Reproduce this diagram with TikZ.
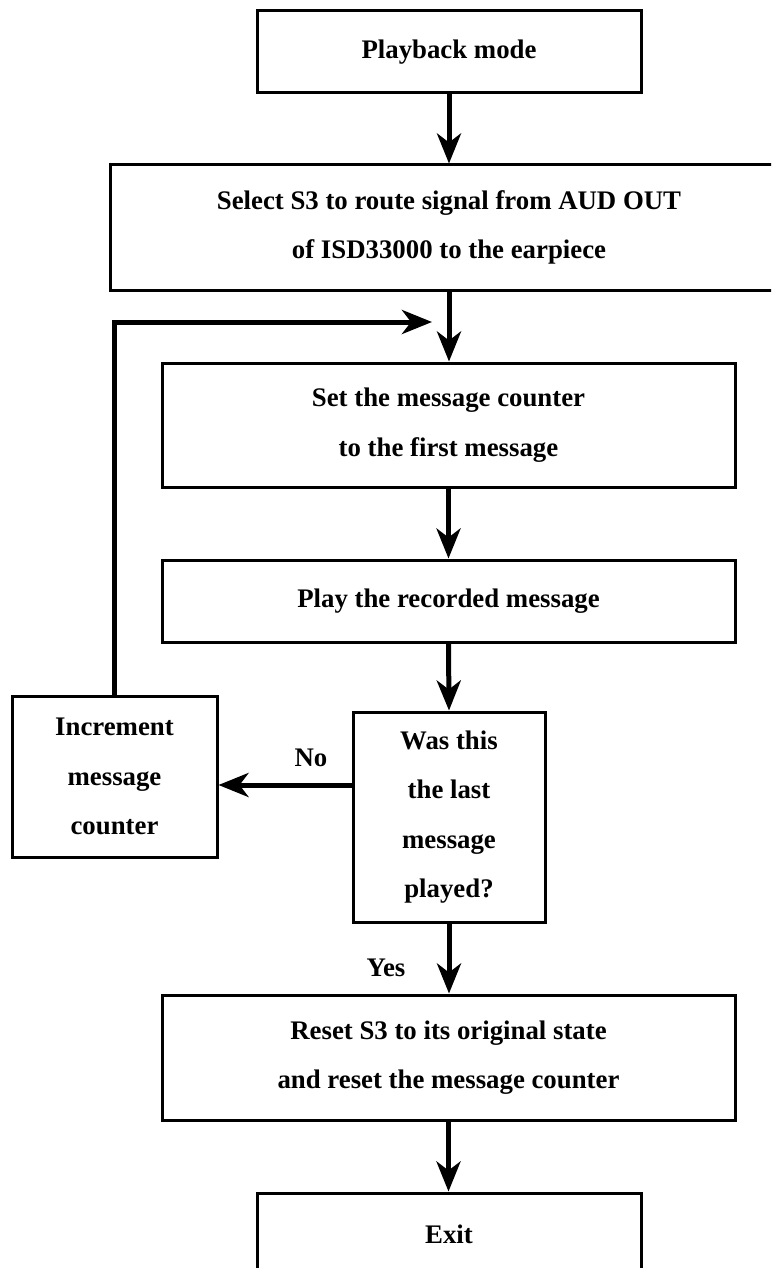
\documentclass[tikz,border=0pt]{standalone}
\usepackage{fontspec}
\setmainfont{Liberation Serif}
\usetikzlibrary{arrows.meta}
\begin{document}
\begin{tikzpicture}[x=1pt,y=-1pt,
  box/.style={draw=black, line width=3pt, fill=white, inner sep=0pt, align=center,
    font=\fontsize{26.8}{49.5}\selectfont\bfseries},
  lbl/.style={inner sep=0pt, font=\fontsize{26.8}{30}\selectfont\bfseries},
  arr/.style={line width=5pt, -{Stealth[length=30pt,width=24pt,inset=9pt]}}]
\useasboundingbox (0,0) rectangle (771,1268);
\clip (0,0) rectangle (771,1268);
\fill[white] (0,0) rectangle (771,1268);
\node[box, minimum width=384, minimum height=82] (pm) at (449,52) {Playback mode};
\node[box, minimum width=678, minimum height=125] (sel) at (449,227.5) {Select S3 to route signal from AUD OUT\\of ISD33000 to the earpiece};
\node[box, minimum width=573, minimum height=124] (set) at (448.5,425) {Set the message counter\\to the first message};
\node[box, minimum width=573, minimum height=82] (play) at (448.5,601) {Play the recorded message};
\node[box, minimum width=192, minimum height=210] (was) at (449,817) {Was this\\the last\\message\\played?};
\node[box, minimum width=205, minimum height=161] (inc) at (114.5,776.5) {Increment\\message\\counter};
\node[box, minimum width=573, minimum height=125] (reset) at (448.5,1057.5) {Reset S3 to its original state\\and reset the message counter};
\node[box, minimum width=384, minimum height=82] (exit) at (449,1234) {Exit};
\coordinate (fb) at (432,322);
\coordinate (noy) at (0,785);
\draw[arr] (pm.south) -- (sel.north);
\draw[arr] (sel.south) -- (set.north -| sel.south);
\draw[arr] (set.south) -- (play.north);
\draw[arr] (play.south) -- (was.north);
\draw[arr] (was.south) -- (reset.north -| was.south);
\draw[arr] (reset.south) -- (exit.north -| reset.south);
\draw[arr] (inc.north) -- (inc.north |- fb) -- (fb);
\draw[arr] (was.west |- noy) -- (inc.east |- noy);
\node[lbl] (no) at (311,758) {No};
\node[lbl] (yes) at (386,968) {Yes};
\end{tikzpicture}
\end{document}
